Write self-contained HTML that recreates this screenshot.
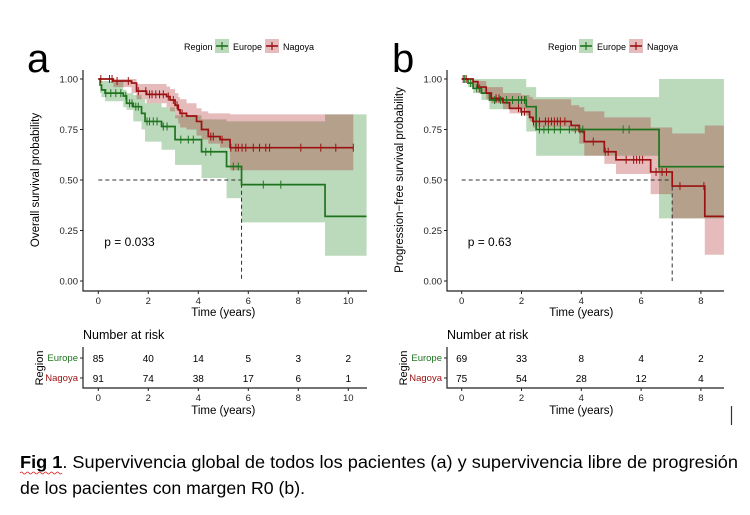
<!DOCTYPE html>
<html><head><meta charset="utf-8"><style>
html,body{margin:0;padding:0;background:#fff;width:750px;height:515px;overflow:hidden}
svg text{font-family:"Liberation Sans",sans-serif}
</style></head><body>
<svg id="fig" width="750" height="515" viewBox="0 0 750 515" xmlns="http://www.w3.org/2000/svg"></svg>
<script>
// ---- Panel a data (overall survival) ----
const aEuT=[0,0.07,0.13,0.27,1.0,1.13,1.4,1.73,1.87,2.53,3.07,4.13,5.13,5.73,9.07,10.73];
const aEuS=[1,0.97,0.946,0.93,0.916,0.88,0.863,0.83,0.79,0.765,0.70,0.64,0.567,0.477,0.32,0.32];
const aEuUp=[1,0.99,0.99,0.99,0.946,0.93,0.92,0.90,0.88,0.86,0.82,0.80,0.79,0.79,0.825,0.825];
const aEuLo=[1,0.93,0.91,0.89,0.86,0.847,0.79,0.75,0.69,0.65,0.575,0.51,0.41,0.29,0.125,0.125];
const aNaT=[0,0.6,1.33,1.53,1.93,2.73,2.87,3.07,3.2,3.27,3.53,3.93,4.13,4.4,4.87,5.27,10.2];
const aNaS=[1,0.99,0.98,0.94,0.924,0.913,0.896,0.87,0.847,0.83,0.817,0.79,0.75,0.715,0.70,0.66,0.66];
const aNaUp=[1,1,1,0.975,0.975,0.962,0.95,0.93,0.91,0.90,0.88,0.855,0.84,0.83,0.83,0.825,0.825];
const aNaLo=[1,0.96,0.93,0.90,0.88,0.86,0.84,0.806,0.78,0.76,0.75,0.72,0.70,0.68,0.66,0.548,0.548];
const aEuCens=[0.3,0.5,0.7,0.9,1.1,1.25,1.35,1.5,1.6,1.95,2.05,2.2,2.35,2.6,2.75,3.3,3.6,3.8,4.3,4.5,5.4,5.6,6.6,7.3];
const aNaCens=[0.1,0.45,0.55,0.75,1.2,1.6,1.9,2.05,2.15,2.3,2.45,2.6,2.8,3.0,3.15,3.35,4.5,4.6,4.95,5.3,5.5,5.6,5.75,5.9,6.2,6.45,6.7,6.85,8.1,8.9,9.5,10.2];
const aRiskEu=[85,40,14,5,3,2];
const aRiskNa=[91,74,38,17,6,1];
const aTicksX=[0,2,4,6,8,10];
// ---- Panel b data (progression-free survival) ----
const bEuT=[0,0.21,0.38,0.66,0.93,2.16,2.49,6.6,8.77];
const bEuS=[1,0.98,0.954,0.93,0.896,0.863,0.75,0.566,0.566];
const bEuUp=[1,1,1,1,1,0.96,0.91,1,1];
const bEuLo=[1,0.96,0.93,0.896,0.85,0.74,0.62,0.31,0.31];
const bNaT=[0,0.38,0.54,0.82,0.99,1.38,1.6,1.99,2.27,2.38,3.66,3.93,4.1,4.77,5.16,6.32,7.04,8.13,8.77];
const bNaS=[1,0.987,0.96,0.93,0.904,0.883,0.855,0.838,0.81,0.79,0.77,0.74,0.69,0.64,0.60,0.54,0.47,0.32,0.32];
const bNaUp=[1,0.99,0.99,0.96,0.96,0.93,0.93,0.92,0.91,0.90,0.87,0.86,0.84,0.81,0.81,0.76,0.73,0.77,0.77];
const bNaLo=[1,0.96,0.93,0.90,0.88,0.85,0.83,0.82,0.79,0.76,0.74,0.68,0.62,0.58,0.53,0.43,0.31,0.13,0.13];
const bEuCens=[0.1,0.3,0.5,0.6,1.1,1.3,1.5,1.7,1.9,2.0,2.1,2.15,2.6,2.75,2.9,3.1,3.3,3.6,3.8,3.95,4.05,5.4,5.6,6.6];
const bNaCens=[0.05,0.15,1.15,1.25,1.9,2.0,2.1,2.4,2.6,2.8,2.9,3.0,3.1,3.2,3.3,3.45,4.4,4.8,4.9,5.5,5.75,5.85,5.95,6.05,6.5,6.7,6.85,7.3,8.1];
const bRiskEu=[69,33,8,4,2];
const bRiskNa=[75,54,28,12,4];
const bTicksX=[0,2,4,6,8];
const yTicks=[0,0.25,0.5,0.75,1];
const yTickLabels=["0.00","0.25","0.50","0.75","1.00"];

const NS="http://www.w3.org/2000/svg";
const svg=document.getElementById('fig');
function mk(tag,attrs,parent,txt){const e=document.createElementNS(NS,tag);for(const k in attrs)e.setAttribute(k,attrs[k]);if(txt!==undefined)e.textContent=txt;(parent||svg).appendChild(e);return e;}
const GREEN='#1e741e',RED='#9b1010';

function stepPath(T,S,fx,fy){let d='M'+fx(T[0])+','+fy(S[0]);for(let i=1;i<T.length;i++){d+=' H'+fx(T[i])+' V'+fy(S[i]);}return d;}
function bandPath(T,U,L,fx,fy){const n=T.length;let d='M'+fx(T[0])+','+fy(U[0]);for(let i=1;i<n;i++){d+=' H'+fx(T[i])+' V'+fy(U[i]);}
 d+=' V'+fy(L[n-1]);
 for(let i=n-1;i>=1;i--){d+=' V'+fy(L[i-1])+' H'+fx(T[i-1]);} d+=' Z';return d;}
function valAt(T,S,t){let v=S[0];for(let i=0;i<T.length;i++){if(T[i]<=t)v=S[i];}return v;}

function panel(cfg){
 const g=mk('g',{});  
 const fx=t=>cfg.x0+t*cfg.sx; const fy=s=>281-s*202;
 mk('text',{x:cfg.letterX,y:72,'font-size':40,fill:'#000'},g,cfg.letter);
 const lg=mk('g',{},g);  
 mk('text',{x:cfg.legX,y:50,'font-size':9,fill:'#000'},lg,'Region');
 [[GREEN,'rgba(30,130,30,0.3)','Europe',cfg.legX+31],[RED,'rgba(170,30,30,0.3)','Nagoya',cfg.legX+81]].forEach(([c,f,n,x])=>{
  const e=mk('g',{},lg);  
  mk('rect',{x:x,y:39,width:14,height:14,fill:f},e);
  mk('line',{x1:x+1,y1:46,x2:x+13,y2:46,stroke:c,'stroke-width':1.6},e);
  mk('line',{x1:x+7,y1:42,x2:x+7,y2:50,stroke:c,'stroke-width':1.2},e);
  mk('text',{x:x+18,y:50,'font-size':9,fill:'#000'},e,n);
 });
 const yt=mk('text',{x:0,y:0,'font-size':11.5,'text-anchor':'middle',transform:`translate(${cfg.axL-44},180) rotate(-90)`},g,cfg.ytitle);
  
 mk('path',{d:bandPath(cfg.euT,cfg.euUp,cfg.euLo,fx,fy),fill:'rgba(30,130,30,0.3)'},g);
 mk('path',{d:bandPath(cfg.naT,cfg.naUp,cfg.naLo,fx,fy),fill:'rgba(170,30,30,0.3)'},g);
 mk('path',{d:`M${fx(0)},${fy(0.5)} H${fx(cfg.med)} V${fy(0)}`,fill:'none',stroke:'#333','stroke-width':1,'stroke-dasharray':'4,3'},g);
 mk('path',{d:stepPath(cfg.euT,cfg.euS,fx,fy),fill:'none',stroke:GREEN,'stroke-width':1.7},g);
 mk('path',{d:stepPath(cfg.naT,cfg.naS,fx,fy),fill:'none',stroke:RED,'stroke-width':1.7},g);
 cfg.euC.forEach(t=>{const l=mk('line',{x1:fx(t),x2:fx(t),y1:fy(valAt(cfg.euT,cfg.euS,t))-4,y2:fy(valAt(cfg.euT,cfg.euS,t))+4,stroke:GREEN,'stroke-width':1},g);});
 cfg.naC.forEach(t=>{const l=mk('line',{x1:fx(t),x2:fx(t),y1:fy(valAt(cfg.naT,cfg.naS,t))-4,y2:fy(valAt(cfg.naT,cfg.naS,t))+4,stroke:RED,'stroke-width':1},g);});
 mk('text',{x:fx(0)+6,y:246,'font-size':12},g,cfg.p);
 mk('path',{d:`M${cfg.axL},70 V291 H${cfg.axR}`,fill:'none',stroke:'#222','stroke-width':1.2},g);
 yTicks.forEach((v,i)=>{mk('line',{x1:cfg.axL-3,x2:cfg.axL,y1:fy(v),y2:fy(v),stroke:'#222'},g);
  mk('text',{x:cfg.axL-5,y:fy(v)+3.5,'font-size':9.5,'text-anchor':'end',fill:'#222'},g,yTickLabels[i]);});
 cfg.ticks.forEach(t=>{mk('line',{x1:fx(t),x2:fx(t),y1:291,y2:294,stroke:'#222'},g);
  mk('text',{x:fx(t),y:304,'font-size':9.5,'text-anchor':'middle',fill:'#222'},g,t);});
 mk('text',{x:fx(cfg.ticks[cfg.ticks.length-1]/2),y:316,'font-size':11.5,'text-anchor':'middle'},g,'Time (years)');
 const rt=mk('g',{},g);  
 mk('text',{x:cfg.axL,y:339,'font-size':12.5},rt,'Number at risk');
 mk('text',{x:0,y:0,'font-size':11,'text-anchor':'middle',transform:`translate(${cfg.axL-44+4},368) rotate(-90)`},rt,'Region');
 mk('text',{x:cfg.axL-5,y:361,'font-size':9.5,'text-anchor':'end',fill:GREEN},rt,'Europe');
 mk('text',{x:cfg.axL-5,y:381,'font-size':9.5,'text-anchor':'end',fill:RED},rt,'Nagoya');
 mk('line',{x1:cfg.axL-3,x2:cfg.axL,y1:358,y2:358,stroke:'#222'},rt);
 mk('line',{x1:cfg.axL-3,x2:cfg.axL,y1:378,y2:378,stroke:'#222'},rt);
 mk('path',{d:`M${cfg.axL},347 V388 H${cfg.axR}`,fill:'none',stroke:'#222','stroke-width':1.2},rt);
 cfg.ticks.forEach((t,i)=>{
  mk('text',{x:fx(t),y:362,'font-size':10,'text-anchor':'middle'},rt,cfg.rEu[i]);
  mk('text',{x:fx(t),y:382,'font-size':10,'text-anchor':'middle'},rt,cfg.rNa[i]);
  mk('line',{x1:fx(t),x2:fx(t),y1:388,y2:391,stroke:'#222'},rt);
  mk('text',{x:fx(t),y:401,'font-size':9.5,'text-anchor':'middle',fill:'#222'},rt,t);
 });
 mk('text',{x:fx(cfg.ticks[cfg.ticks.length-1]/2),y:414,'font-size':11.5,'text-anchor':'middle'},rt,'Time (years)');
}

panel({name:'panel-a-overall-survival',letter:'a',letterX:27,legX:184,x0:98.3,sx:25,axL:83,axR:367,
 ytitle:'Overall survival probability',euT:aEuT,euS:aEuS,euUp:aEuUp,euLo:aEuLo,naT:aNaT,naS:aNaS,naUp:aNaUp,naLo:aNaLo,
 euC:aEuCens,naC:aNaCens,med:5.73,p:'p = 0.033',ticks:aTicksX,rEu:aRiskEu,rNa:aRiskNa});
panel({name:'panel-b-progression-free',letter:'b',letterX:392,legX:548,x0:461.7,sx:29.9,axL:447,axR:724,
 ytitle:'Progression\u2212free survival probability',euT:bEuT,euS:bEuS,euUp:bEuUp,euLo:bEuLo,naT:bNaT,naS:bNaS,naUp:bNaUp,naLo:bNaLo,
 euC:bEuCens,naC:bNaCens,med:7.04,p:'p = 0.63',ticks:bTicksX,rEu:bRiskEu,rNa:bRiskNa});

mk('line',{x1:731.5,x2:731.5,y1:406,y2:425,stroke:'#333','stroke-width':1.2});
const c1=mk('text',{x:20,y:468,'font-size':17.5,textLength:718,lengthAdjust:'spacingAndGlyphs'});


mk('tspan',{'font-weight':'bold'},c1,'Fig 1');
mk('tspan',{},c1,'. Supervivencia global de todos los pacientes (a) y supervivencia libre de progresión');
mk('path',{d:'M20,473 q1.5,-2 3,0 t3,0 t3,0 t3,0 t3,0 t3,0 t3,0 t3,0 t3,0 t3,0 t3,0 t3,0 t3,0 t3,0',fill:'none',stroke:'#d22','stroke-width':0.8});
const c2=mk('text',{x:20,y:494,'font-size':17.5,textLength:285,lengthAdjust:'spacingAndGlyphs'},svg,'de los pacientes con margen R0 (b).');


</script>
</body></html>
